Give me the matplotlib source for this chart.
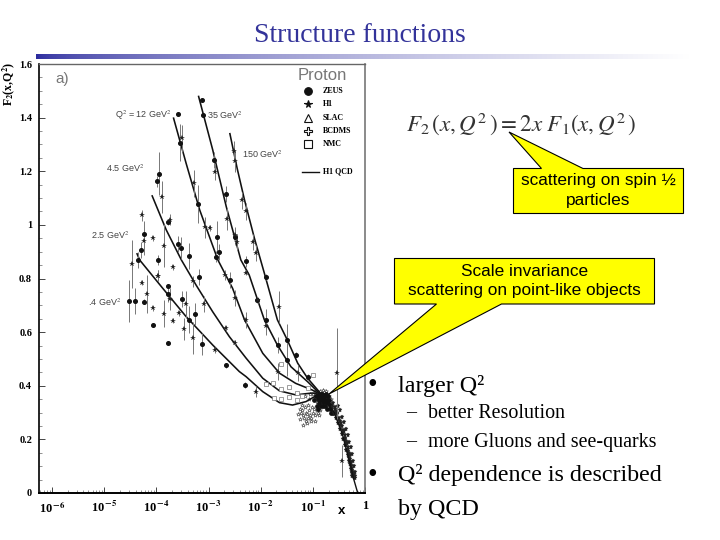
# Structure functions slide: F2 vs x with callouts
import numpy as np
import matplotlib
matplotlib.use('Agg')
import matplotlib.pyplot as plt
from matplotlib.patches import Polygon
from matplotlib.ticker import LogLocator

plt.rcParams['mathtext.fontset'] = 'stix'

# QCD curves, log10(x) and F2
curve_150_x = [-2.59, -2.45, -2.31, -2.12, -1.93, -1.68, -1.49, -1.29, -1.1, -0.88, -0.78]
curve_150_y = [1.34, 1.21, 1.093, 0.95, 0.82, 0.646, 0.571, 0.484, 0.428, 0.378, 0.35]
curve_35_x = [-3.19, -2.92, -2.66, -2.38, -2.22, -1.93, -1.68, -1.42, -1.1, -0.88, -0.78]
curve_35_y = [1.479, 1.28, 1.068, 0.869, 0.813, 0.646, 0.552, 0.471, 0.415, 0.373, 0.35]
curve_12_x = [-3.67, -3.43, -3.17, -2.82, -2.54, -2.31, -1.96, -1.64, -1.33, -1.01, -0.84, -0.78]
curve_12_y = [1.398, 1.23, 1.056, 0.869, 0.764, 0.646, 0.521, 0.447, 0.409, 0.384, 0.366, 0.35]
curve_4_x = [-4.08, -3.81, -3.52, -3.24, -2.92, -2.6, -2.28, -1.96, -1.64, -1.33, -1.01, -0.84, -0.78]
curve_4_y = [1.108, 0.981, 0.869, 0.776, 0.676, 0.583, 0.503, 0.428, 0.381, 0.366, 0.373, 0.366, 0.35]
curve_2_x = [-4.37, -4.32, -3.88, -3.43, -2.92, -2.41, -2.28, -1.96, -1.64, -1.39, -1.13, -0.91, -0.78]
curve_2_y = [0.892, 0.869, 0.764, 0.658, 0.552, 0.453, 0.434, 0.378, 0.337, 0.328, 0.341, 0.366, 0.35]
curve_tail_x = [-0.78, -0.72, -0.59, -0.44, -0.34, -0.27, -0.23, -0.147, -0.115]
curve_tail_y = [0.35, 0.335, 0.30, 0.224, 0.149, 0.098, 0.061, 0.005, 0.0]

# ZEUS points
zeus_x = [-3.58, -3.54, -3.94, -3.98, -4.24, -4.35, -4.29, -3.97, -3.78, -3.58, -3.52, -3.38,
          -2.89, -2.66, -3.2, -2.84, -2.79, -2.86, -2.5, -2.29, -1.89, -3.13, -3.1,
          -4.53, -4.4, -4.24, -4.07, -3.78, -3.78, -3.78, -3.51, -3.19, -3.25, -3.38,
          -3.12, -2.66, -2.59, -2.3, -2.08, -1.9, -1.67, -1.5, -1.33, -1.49, -1.1]
zeus_y = [1.412, 1.307, 1.19, 1.162, 0.965, 0.869, 0.907, 0.869, 1.009, 0.929, 0.913, 0.884,
          1.243, 1.114, 1.078, 0.956, 0.9, 0.882, 0.956, 0.864, 0.805, 1.466, 1.408,
          0.716, 0.716, 0.714, 0.626, 0.772, 0.743, 0.558, 0.724, 0.805, 0.668, 0.646,
          0.556, 0.476, 0.795, 0.403, 0.72, 0.646, 0.552, 0.496, 0.515, 0.571, 0.432]
zeus_err = [0.0, 0.07, 0.08, 0.02, 0.05, 0.03, 0.03, 0.02, 0.01, 0.03, 0.04, 0.05,
            0.03, 0.03, 0.07, 0.06, 0.03, 0.02, 0.03, 0.02, 0.01, 0.0, 0.0,
            0.08, 0.05, 0.01, 0.0, 0.0, 0.03, 0.0, 0.03, 0.03, 0.04, 0.05,
            0.04, 0.01, 0.03, 0.01, 0.01, 0.04, 0.03, 0.06, 0.01, 0.06, 0.01]

# H1 points
h1_x = [-4.47, -4.27, -4.24, -4.07, -3.89, -3.86, -3.73, -3.68, -3.51, -3.28, -3.07, -2.98,
        -2.87, -2.65, -2.52, -2.49, -2.5, -2.45, -2.35, -2.29, -2.15, -2.09, -3.96,
        -4.28, -4.17, -3.97, -4.07, -3.86, -3.73, -3.68, -3.57, -3.47, -3.44, -3.29, -3.29,
        -3.08, -2.87, -2.68, -2.67, -2.49, -2.49, -2.29, -2.28, -2.06, -2.09, -1.9, -1.64,
        -1.67, -1.29, -0.53, -0.44]
h1_y = [0.854, 1.035, 0.938, 0.95, 1.103, 0.923, 1.019, 0.842, 1.323, 1.155, 0.991, 0.988,
        1.196, 1.022, 1.274, 1.239, 0.963, 0.935, 1.091, 1.05, 0.935, 0.894, 0.81,
        0.785, 0.743, 0.81, 0.689, 0.668, 0.723, 0.643, 0.67, 0.612, 0.704, 0.577, 0.789,
        0.704, 0.534, 0.813, 0.614, 0.561, 0.726, 0.646, 0.822, 0.718, 0.378, 0.621, 0.695,
        0.453, 0.447, 0.447, 0.12]
h1_err = [0.09, 0.02, 0.05, 0.01, 0.06, 0.08, 0.02, 0.01, 0.05, 0.05, 0.04, 0.01,
          0.03, 0.04, 0.04, 0.04, 0.03, 0.03, 0.03, 0.03, 0.03, 0.03, 0.02,
          0.01, 0.07, 0.02, 0.01, 0.05, 0.04, 0.01, 0.01, 0.04, 0.05, 0.06, 0.02,
          0.03, 0.01, 0.02, 0.01, 0.01, 0.03, 0.03, 0.01, 0.01, 0.02, 0.03, 0.06,
          0.03, 0.03, 0.17, 0.06]

# NMC points
nmc_x = [-1.61, -1.76, -1.9, -1.61, -1.45, -1.45, -1.61, -1.74, -1.31, -1.31, -1.1, -1.0, -1.2]
nmc_y = [0.48, 0.412, 0.407, 0.388, 0.397, 0.357, 0.35, 0.353, 0.374, 0.345, 0.39, 0.44, 0.36]

# dense fixed target points around x ~ 0.1 - 0.6
dense_x = [-1.0, -0.98, -0.95, -0.93, -0.92, -0.9, -0.88, -0.87, -0.86, -0.85, -0.84, -0.83,
           -0.82, -0.81, -0.8, -0.8, -0.79, -0.78, -0.78, -0.77, -0.76, -0.75, -0.74, -0.74,
           -0.73, -0.72, -0.71, -0.7, -0.69, -0.68, -0.67, -0.66, -0.65, -0.64, -0.85, -0.83,
           -0.8, -0.77, -0.75, -0.72, -0.79, -0.76, -0.7, -0.74,
           -1.2, -1.18, -1.15, -1.13, -1.1, -1.1, -1.07, -1.05, -1.04, -1.02, -1.0, -0.97,
           -0.95, -0.92, -0.9, -0.86, -1.2, -1.14, -1.22, -1.08, -1.15, -1.05, -1.17, -1.12,
           -1.25, -1.28, -1.24, -1.19, -1.11, -1.03, -0.96, -0.88]
dense_y = [0.37, 0.35, 0.38, 0.36, 0.34, 0.37, 0.35, 0.33, 0.38, 0.36, 0.34, 0.37,
           0.35, 0.33, 0.385, 0.36, 0.34, 0.375, 0.35, 0.33, 0.365, 0.345, 0.38, 0.355,
           0.335, 0.37, 0.35, 0.33, 0.36, 0.34, 0.32, 0.35, 0.33, 0.31, 0.35, 0.36,
           0.35, 0.34, 0.355, 0.345, 0.365, 0.35, 0.345, 0.34,
           0.31, 0.29, 0.32, 0.30, 0.28, 0.33, 0.31, 0.29, 0.27, 0.32, 0.30, 0.315,
           0.29, 0.31, 0.30, 0.31, 0.33, 0.27, 0.30, 0.35, 0.36, 0.37, 0.28, 0.295,
           0.315, 0.295, 0.275, 0.255, 0.26, 0.28, 0.27, 0.29]

# the band of points that runs down towards x ~ 0.6, left edge, right edge and middle
band_x = [-0.64, -0.6, -0.56, -0.52, -0.48, -0.45, -0.42, -0.39, -0.36, -0.33, -0.3, -0.27, -0.25, -0.24,
          -0.52, -0.48, -0.44, -0.4, -0.37, -0.33, -0.3, -0.27, -0.25, -0.23, -0.21, -0.2, -0.19, -0.19,
          -0.58, -0.54, -0.5, -0.46, -0.42, -0.39, -0.36, -0.33, -0.3, -0.28, -0.26, -0.24, -0.23, -0.21,
          -0.61, -0.57, -0.53, -0.48, -0.44, -0.41, -0.38, -0.35, -0.32, -0.29, -0.27, -0.25, -0.23, -0.22,
          -0.55, -0.51, -0.47, -0.43, -0.39, -0.36, -0.33, -0.3, -0.28, -0.26, -0.24, -0.22]
band_y = [0.32, 0.30, 0.28, 0.26, 0.24, 0.22, 0.20, 0.18, 0.16, 0.14, 0.12, 0.10, 0.08, 0.065,
          0.325, 0.31, 0.285, 0.265, 0.24, 0.215, 0.19, 0.17, 0.145, 0.12, 0.10, 0.08, 0.065, 0.055,
          0.32, 0.30, 0.28, 0.26, 0.235, 0.215, 0.195, 0.17, 0.15, 0.125, 0.105, 0.085, 0.07, 0.06,
          0.335, 0.315, 0.295, 0.27, 0.25, 0.23, 0.205, 0.185, 0.165, 0.14, 0.115, 0.095, 0.08, 0.065,
          0.305, 0.275, 0.255, 0.225, 0.20, 0.18, 0.155, 0.13, 0.11, 0.09, 0.075, 0.07]

# core of the pile up near x ~ 0.15
core_x = [-0.97, -0.94, -0.91, -0.89, -0.86, -0.83, -0.81, -0.79, -0.77, -0.75, -0.73, -0.71,
          -0.69, -0.67, -0.65, -0.92, -0.88, -0.84, -0.8, -0.76, -0.72, -0.68, -0.9, -0.85,
          -0.82, -0.78, -0.74, -0.7, -0.66, -0.62]
core_y = [0.345, 0.36, 0.35, 0.335, 0.345, 0.355, 0.34, 0.35, 0.36, 0.34, 0.345, 0.335,
          0.345, 0.33, 0.325, 0.325, 0.36, 0.325, 0.325, 0.325, 0.315, 0.315, 0.315, 0.37,
          0.37, 0.365, 0.37, 0.36, 0.30, 0.30]

y_ticks = [0, 0.2, 0.4, 0.6, 0.8, 1, 1.2, 1.4, 1.6]
y_tick_labels = ['0', '0.2', '0.4', '0.6', '0.8', '1', '1.2', '1.4', '1.6']
x_ticks = [1e-6, 1e-5, 1e-4, 1e-3, 1e-2, 1e-1, 1]
x_tick_labels = ['10$^{\\,\\mathbf{-6}}$', '10$^{\\,\\mathbf{-5}}$', '10$^{\\,\\mathbf{-4}}$',
                 '10$^{\\,\\mathbf{-3}}$', '10$^{\\,\\mathbf{-2}}$', '10$^{\\,\\mathbf{-1}}$', '1']

Q2_labels = [('Q$^2$ = 12 GeV$^2$', 143, 115), ('35 GeV$^2$', 225, 115), ('150 GeV$^2$', 262, 154),
             ('4.5 GeV$^2$', 125, 168), ('2.5 GeV$^2$', 110, 235), ('.4 GeV$^2$', 105, 302)]


def px(v):
    return 10 ** np.array(v)


fig = plt.figure(figsize=(7.2, 5.4), dpi=100)

# Main plot
ax = fig.add_axes([39 / 720, 1 - 493 / 540, 326 / 720, 429 / 540])
ax.set_xscale('log')
ax.set_xlim(10 ** -6.25, 1)
ax.set_ylim(0, 1.6)

ax.plot(px(dense_x), dense_y, '*', ms=3.0, mfc='white', mec='#444444', mew=0.4, ls='none')
ax.plot(px(core_x), core_y, 'o', ms=2.4, color='#111111', ls='none')
ax.plot(px(band_x), band_y, '*', ms=3.6, color='#222222', mew=0.3, ls='none')
for cx, cy in [(curve_150_x, curve_150_y), (curve_35_x, curve_35_y), (curve_12_x, curve_12_y),
               (curve_4_x, curve_4_y), (curve_2_x, curve_2_y)]:
    ax.plot(px(cx), cy, color='#111111', lw=1.15, solid_joinstyle='round')
ax.plot(px(curve_tail_x), curve_tail_y, color='#111111', lw=1.0)
ax.errorbar(px(zeus_x), zeus_y, yerr=zeus_err, fmt='o', ms=2.6, color='#111111',
            ecolor='#777777', elinewidth=0.7)
ax.errorbar(px(h1_x), h1_y, yerr=h1_err, fmt='*', ms=4.2, color='#222222',
            ecolor='#777777', elinewidth=0.7, mew=0)
ax.plot(px(nmc_x), nmc_y, 's', ms=3.2, mfc='white', mec='#777777', mew=0.5, ls='none')

ax.set_yticks(y_ticks)
ax.set_yticklabels(y_tick_labels, family='Liberation Serif', fontweight='bold', fontsize=7.5)
ax.set_yticks(np.arange(0, 1.6, 0.05), minor=True)
ax.set_xticks(x_ticks)
ax.set_xticklabels(x_tick_labels, family='Liberation Serif', fontweight='bold', fontsize=9)
ax.xaxis.set_minor_locator(LogLocator(base=10, subs=range(2, 10), numticks=20))
ax.xaxis.set_minor_formatter(plt.NullFormatter())
ax.tick_params(axis='both', which='major', direction='in', length=4, width=0.7, color='#444444', pad=3)
ax.tick_params(axis='both', which='minor', direction='in', length=2, width=0.5, color='#666666')
ax.tick_params(axis='y', pad=5)
ax.tick_params(axis='x', pad=5)

ax.spines['top'].set_color('#666666')
ax.spines['right'].set_color('#777777')
ax.spines['right'].set_linewidth(1.2)
ax.spines['top'].set_linewidth(1.0)
ax.spines['left'].set_linewidth(1.2)
ax.spines['bottom'].set_linewidth(1.4)

# Overlay in pixel coordinates for the slide furniture
ov = fig.add_axes([0, 0, 1, 1], zorder=5)
ov.axis('off')
ov.patch.set_alpha(0)

# Title rule, blue fading to white
grad = np.linspace(0, 1, 256).reshape(1, -1, 1)
rule = np.array([0.17, 0.17, 0.62]) * (1 - grad ** 0.6) + np.array([1, 1, 1]) * grad ** 0.6
ov.imshow(rule, extent=[36, 690, 59, 54], aspect='auto', zorder=1)
ov.set_xlim(0, 720)
ov.set_ylim(540, 0)

ov.text(360, 35, 'Structure functions', family='Liberation Serif', fontsize=20,
        color='#33339a', ha='center', va='center')

# Axis labels
ov.text(9, 84, 'F$_\\mathbf{2}$(x,Q$^\\mathbf{2}$)', family='Liberation Serif', fontweight='bold',
        fontsize=8.5, rotation=90, ha='center', va='center')
ov.text(342, 511, 'x', family='Liberation Sans', fontweight='bold', fontsize=9.5, ha='center', va='center')

ov.text(62, 79, 'a)', family='Liberation Sans', fontsize=11, color='#777777', ha='center', va='center')
ov.text(322, 76, 'Proton', family='Liberation Sans', fontsize=12, color='#777777', ha='center', va='center')
for lab, lx, ly in Q2_labels:
    ov.text(lx, ly, lab, family='Liberation Sans', fontsize=6.5, color='#444444', ha='center', va='center')

# Legend
legend_names = ['ZEUS', 'H1', 'SLAC', 'BCDMS', 'NMC']
legend_marks = ['o', '*', '^', 'P', 's']
for i, (name, mk) in enumerate(zip(legend_names, legend_marks)):
    ly = 91 + i * 13.3
    filled = mk in 'o*'
    ov.plot([308], [ly], mk, ms=5.5, mfc='#111111' if filled else 'white', mec='#111111', mew=0.8)
    ov.text(323, ly, name, family='Liberation Serif', fontweight='bold', fontsize=5.8, va='center')
ov.plot([302, 319], [171.5, 171.5], color='#111111', lw=1)
ov.text(323, 171.5, 'H1 QCD', family='Liberation Serif', fontweight='bold', fontsize=5.8, va='center')

# Formula
ov.text(521, 124, r'$F_2\,(x, Q^2\,) = 2x\ F_1(x, Q^2\,)$', fontsize=16.6, color='#333333',
        ha='center', va='center')

# Callouts
yellow = '#ffff00'
ov.add_patch(Polygon([(513.5, 168.5), (541.5, 168.5), (509, 132), (583, 168.5), (683.5, 168.5),
                      (683.5, 213.5), (513.5, 213.5)], closed=True, fc=yellow, ec='black', lw=0.8))
ov.text(598.5, 181, 'scattering on spin ½', family='Liberation Sans', fontsize=12.4,
        ha='center', va='center')
ov.text(598.5, 200, 'particles', family='Liberation Sans', fontsize=12.4, ha='center', va='center')

ov.add_patch(Polygon([(394.5, 258.5), (654.5, 258.5), (654.5, 304), (501.5, 304), (329, 394),
                      (436.5, 304), (394.5, 304)], closed=True, fc=yellow, ec='black', lw=0.8))
ov.text(524.5, 272, 'Scale invariance', family='Liberation Sans', fontsize=12.4, ha='center', va='center')
ov.text(524.5, 291, 'scattering on point-like objects', family='Liberation Sans', fontsize=12.4,
        ha='center', va='center')

# Bullets
ov.text(372, 386, '•', family='Liberation Serif', fontsize=20, ha='center', va='center')
ov.text(398, 386, 'larger Q²', family='Liberation Serif', fontsize=17.3, va='center')
ov.text(406, 413, '–', family='Liberation Serif', fontsize=14.4, va='center')
ov.text(428, 413, 'better Resolution', family='Liberation Serif', fontsize=14.4, va='center')
ov.text(406, 442, '–', family='Liberation Serif', fontsize=14.4, va='center')
ov.text(428, 442, 'more Gluons and see-quarks', family='Liberation Serif', fontsize=14.4, va='center')
ov.text(372, 475, '•', family='Liberation Serif', fontsize=20, ha='center', va='center')
ov.text(398, 475, 'Q² dependence is described', family='Liberation Serif', fontsize=17.3, va='center')
ov.text(398, 509, 'by QCD', family='Liberation Serif', fontsize=17.3, va='center')

fig.savefig('out.png', dpi=100)
